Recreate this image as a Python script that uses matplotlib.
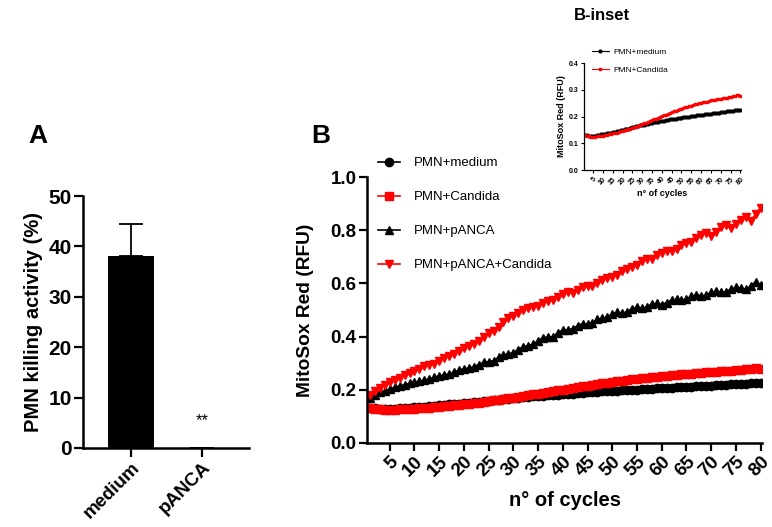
import matplotlib
matplotlib.use("Agg")
import matplotlib.pyplot as plt

plt.rcParams['font.family'] = ['Liberation Sans', 'DejaVu Sans']

# panel A: killing activity
groups = ["medium", "pANCA"]
killing = [38.1, 0.0]
killing_err = [6.3, 0.0]

# panel B: MitoSox Red over 80 cycles
cycles = list(range(1, 81))
medium = [0.132, 0.130, 0.129, 0.128, 0.128, 0.129, 0.130, 0.131, 0.133, 0.134,
          0.136, 0.137, 0.139, 0.140, 0.142, 0.143, 0.145, 0.147, 0.148, 0.150,
          0.152, 0.154, 0.155, 0.157, 0.159, 0.161, 0.163, 0.165, 0.167, 0.168,
          0.170, 0.172, 0.173, 0.175, 0.176, 0.178, 0.179, 0.181, 0.182, 0.183,
          0.185, 0.186, 0.187, 0.189, 0.190, 0.191, 0.192, 0.194, 0.195, 0.196,
          0.197, 0.198, 0.199, 0.200, 0.201, 0.202, 0.203, 0.204, 0.205, 0.206,
          0.207, 0.208, 0.209, 0.210, 0.211, 0.212, 0.213, 0.214, 0.215, 0.216,
          0.217, 0.218, 0.219, 0.220, 0.221, 0.222, 0.223, 0.224, 0.225, 0.225]
candida = [0.130, 0.128, 0.126, 0.125, 0.125, 0.125, 0.126, 0.127, 0.128, 0.129,
           0.130, 0.132, 0.133, 0.135, 0.137, 0.138, 0.140, 0.142, 0.144, 0.146,
           0.148, 0.150, 0.152, 0.155, 0.157, 0.160, 0.162, 0.165, 0.168, 0.171,
           0.174, 0.177, 0.180, 0.183, 0.186, 0.189, 0.192, 0.195, 0.198, 0.201,
           0.204, 0.207, 0.210, 0.213, 0.216, 0.219, 0.221, 0.224, 0.227, 0.229,
           0.232, 0.234, 0.237, 0.239, 0.241, 0.243, 0.245, 0.247, 0.249, 0.251,
           0.253, 0.255, 0.256, 0.258, 0.260, 0.261, 0.263, 0.264, 0.266, 0.267,
           0.268, 0.270, 0.271, 0.272, 0.274, 0.275, 0.277, 0.279, 0.282, 0.278]
panca = [0.168, 0.180, 0.190, 0.197, 0.203, 0.209, 0.214, 0.219, 0.224, 0.228,
         0.232, 0.236, 0.241, 0.247, 0.252, 0.256, 0.259, 0.266, 0.274, 0.279,
         0.281, 0.287, 0.295, 0.303, 0.306, 0.310, 0.322, 0.331, 0.335, 0.340,
         0.351, 0.362, 0.366, 0.372, 0.384, 0.396, 0.398, 0.400, 0.414, 0.425,
         0.425, 0.430, 0.441, 0.449, 0.447, 0.452, 0.465, 0.470, 0.472, 0.485,
         0.492, 0.488, 0.493, 0.505, 0.510, 0.506, 0.512, 0.522, 0.525, 0.520,
         0.528, 0.537, 0.540, 0.536, 0.542, 0.551, 0.558, 0.553, 0.556, 0.566,
         0.570, 0.566, 0.568, 0.578, 0.585, 0.582, 0.578, 0.590, 0.606, 0.595]
panca_candida = [0.180, 0.195, 0.207, 0.218, 0.228, 0.238, 0.246, 0.254, 0.262, 0.272,
                 0.280, 0.288, 0.293, 0.298, 0.310, 0.320, 0.327, 0.333, 0.345, 0.358,
                 0.366, 0.372, 0.385, 0.400, 0.412, 0.420, 0.435, 0.455, 0.470, 0.478,
                 0.490, 0.500, 0.508, 0.510, 0.515, 0.525, 0.534, 0.538, 0.550, 0.560,
                 0.566, 0.565, 0.575, 0.585, 0.592, 0.592, 0.600, 0.612, 0.622, 0.625,
                 0.632, 0.645, 0.655, 0.660, 0.670, 0.685, 0.690, 0.692, 0.705, 0.715,
                 0.722, 0.720, 0.730, 0.745, 0.752, 0.755, 0.770, 0.782, 0.788, 0.780,
                 0.795, 0.812, 0.818, 0.808, 0.822, 0.840, 0.850, 0.835, 0.860, 0.885]
cycle_ticks = list(range(5, 81, 5))


def style_axes(ax, lw):
    for side in ("top", "right"):
        ax.spines[side].set_visible(False)
    for side in ("left", "bottom"):
        ax.spines[side].set_linewidth(lw)


fig = plt.figure(figsize=(7.72, 5.27), dpi=100)

# ---- panel A ----
axA = fig.add_axes([0.1075, 0.150, 0.215, 0.478])
# only the upper whisker is drawn, as in the original
axA.bar([0, 1], killing, width=0.65, color="black",
        yerr=[[0, 0], killing_err],
        error_kw=dict(ecolor="black", elinewidth=1.3, capsize=8.5, capthick=1.3))
axA.set_xlim(-0.676, 1.662)
axA.set_ylim(0, 50)
axA.set_yticks([0, 10, 20, 30, 40, 50])
axA.set_xticks([0, 1])
axA.set_xticklabels(groups, rotation=45, ha="right", rotation_mode="anchor",
                    fontsize=13.5)
axA.set_ylabel("PMN killing activity (%)", fontsize=14.5, fontweight="bold",
               labelpad=4)
axA.tick_params(axis="y", labelsize=15)
axA.tick_params(width=1.6, length=6.5, pad=1.5)
for lbl in axA.get_xticklabels() + axA.get_yticklabels():
    lbl.set_fontweight("bold")
style_axes(axA, 1.8)
axA.text(1, 4.0, "**", ha="center", va="bottom", fontsize=12)
fig.text(38 / 772, 1 - 136 / 527, "A", fontsize=19, fontweight="bold",
         ha="center", va="center")

# ---- panel B ----
axB = fig.add_axes([0.4754, 0.1594, 0.5117, 0.5047])
series = [
    ("PMN+medium", medium, "black", "o"),
    ("PMN+Candida", candida, "red", "s"),
    ("PMN+pANCA", panca, "black", "^"),
    ("PMN+pANCA+Candida", panca_candida, "red", "v"),
]
for name, vals, col, mk in series:
    axB.plot(cycles, vals, color=col, marker=mk, markersize=6, linewidth=1.2,
             label=name)
axB.set_xlim(0.4, 80.3)
axB.set_ylim(0, 1.0)
axB.set_yticks([0.0, 0.2, 0.4, 0.6, 0.8, 1.0])
axB.set_yticklabels(["0.0", "0.2", "0.4", "0.6", "0.8", "1.0"])
axB.set_xticks(cycle_ticks)
axB.set_xticklabels([str(c) for c in cycle_ticks], rotation=45, ha="right",
                    rotation_mode="anchor")
axB.tick_params(labelsize=13.5, width=1.6, length=6, pad=1.5)
for lbl in axB.get_xticklabels() + axB.get_yticklabels():
    lbl.set_fontweight("bold")
axB.set_xlabel("n° of cycles", fontsize=14.5, fontweight="bold", labelpad=8)
axB.set_ylabel("MitoSox Red (RFU)", fontsize=13.8, fontweight="bold", labelpad=12)
style_axes(axB, 1.8)
axB.legend(loc="upper left", bbox_to_anchor=(378 / 772, 1 - 157 / 527),
           bbox_transform=fig.transFigure, frameon=False, fontsize=9.5,
           handlelength=1.7, handletextpad=1.0, labelspacing=1.65,
           borderaxespad=0, borderpad=0)
fig.text(321 / 772, 1 - 136 / 527, "B", fontsize=19, fontweight="bold",
         ha="center", va="center")

# ---- inset ----
axI = fig.add_axes([0.7565, 0.6774, 0.2034, 0.203])
axI.plot(cycles, medium, color="black", marker="o", markersize=2, linewidth=0.8,
         label="PMN+medium")
axI.plot(cycles, candida, color="red", marker="s", markersize=2, linewidth=0.8,
         label="PMN+Candida")
axI.set_xlim(0.4, 80.3)
axI.set_ylim(0, 0.4)
axI.set_yticks([0.0, 0.1, 0.2, 0.3, 0.4])
axI.set_yticklabels(["0.0", "0.1", "0.2", "0.3", "0.4"])
axI.set_xticks(cycle_ticks)
axI.set_xticklabels([str(c) for c in cycle_ticks], rotation=45, ha="right",
                    rotation_mode="anchor")
axI.tick_params(labelsize=5, width=0.8, length=2.5, pad=1.5)
for lbl in axI.get_xticklabels() + axI.get_yticklabels():
    lbl.set_fontweight("bold")
axI.set_xlabel("n° of cycles", fontsize=6.5, fontweight="bold", labelpad=2)
axI.set_ylabel("MitoSox Red (RFU)", fontsize=6.5, fontweight="bold", labelpad=2)
style_axes(axI, 0.9)
axI.legend(loc="upper left", bbox_to_anchor=(592 / 772, 1 - 48 / 527),
           bbox_transform=fig.transFigure, frameon=False, fontsize=6,
           handlelength=2.0, handletextpad=0.6, labelspacing=1.2,
           borderaxespad=0, borderpad=0)
fig.text(602 / 772, 1 - 15 / 527, "B-inset", fontsize=12, fontweight="bold",
         ha="center", va="center")

fig.savefig("out.png", dpi=100)
